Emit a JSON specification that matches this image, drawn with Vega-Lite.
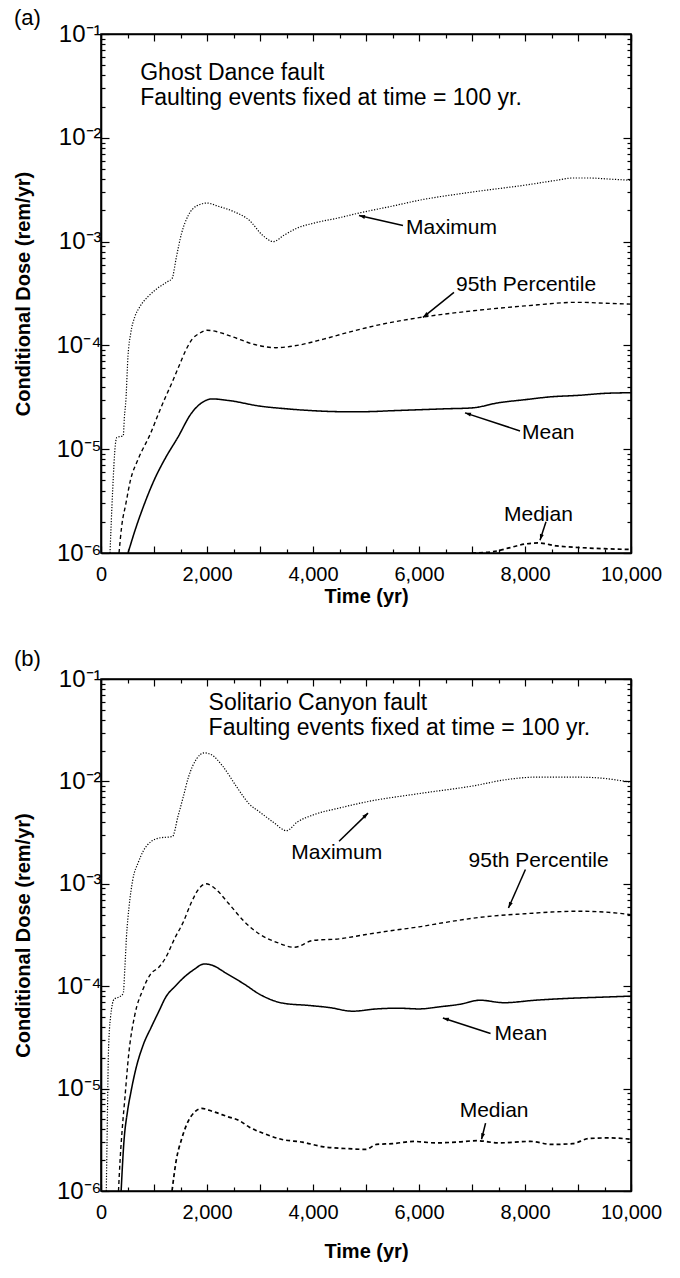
{
"$schema":"https://vega.github.io/schema/vega-lite/v6.json",
"background":"white",
"padding":{"left":13,"top":6,"right":8,"bottom":5},
"config":{
 "font":"Liberation Sans",
 "view":{"stroke":"black","strokeWidth":1.6},
 "axis":{"domainColor":"black","tickColor":"black","labelColor":"black","titleColor":"black","grid":false,"domainWidth":1.6,"tickWidth":1.2,"labelFont":"Liberation Sans","titleFont":"Liberation Sans","labelFontSize":20,"titleFontSize":20,"titleFontWeight":"bold"},
 "title":{"font":"Liberation Sans","fontSize":22,"fontWeight":"normal","anchor":"start","frame":"bounds","color":"black"},
 "text":{"font":"Liberation Sans","fontSize":21,"color":"black"},
 "concat":{"spacing":40}
},
"datasets":{
 "a":[
  {"s":"Maximum","t":170,"d":1e-6},{"s":"Maximum","t":220,"d":4e-6},{"s":"Maximum","t":270,"d":1.1e-5},{"s":"Maximum","t":300,"d":1.3e-5},{"s":"Maximum","t":420,"d":1.35e-5},{"s":"Maximum","t":440,"d":2e-5},{"s":"Maximum","t":470,"d":3e-5},{"s":"Maximum","t":510,"d":8e-5},{"s":"Maximum","t":560,"d":1.3e-4},{"s":"Maximum","t":640,"d":1.9e-4},{"s":"Maximum","t":720,"d":2.3e-4},{"s":"Maximum","t":900,"d":3e-4},{"s":"Maximum","t":1050,"d":3.5e-4},{"s":"Maximum","t":1250,"d":4.1e-4},{"s":"Maximum","t":1340,"d":4.4e-4},{"s":"Maximum","t":1420,"d":7e-4},{"s":"Maximum","t":1520,"d":1.2e-3},{"s":"Maximum","t":1650,"d":1.8e-3},{"s":"Maximum","t":1800,"d":2.2e-3},{"s":"Maximum","t":2000,"d":2.35e-3},{"s":"Maximum","t":2200,"d":2.2e-3},{"s":"Maximum","t":2500,"d":1.95e-3},{"s":"Maximum","t":2800,"d":1.6e-3},{"s":"Maximum","t":3050,"d":1.15e-3},{"s":"Maximum","t":3250,"d":1e-3},{"s":"Maximum","t":3450,"d":1.15e-3},{"s":"Maximum","t":3700,"d":1.35e-3},{"s":"Maximum","t":4000,"d":1.5e-3},{"s":"Maximum","t":4500,"d":1.7e-3},{"s":"Maximum","t":4900,"d":1.9e-3},{"s":"Maximum","t":5500,"d":2.2e-3},{"s":"Maximum","t":6000,"d":2.5e-3},{"s":"Maximum","t":7000,"d":3e-3},{"s":"Maximum","t":8000,"d":3.5e-3},{"s":"Maximum","t":8600,"d":3.9e-3},{"s":"Maximum","t":8900,"d":4.1e-3},{"s":"Maximum","t":9200,"d":4.1e-3},{"s":"Maximum","t":9600,"d":4e-3},{"s":"Maximum","t":10000,"d":3.9e-3},
  {"s":"95th","t":340,"d":1e-6},{"s":"95th","t":390,"d":1.8e-6},{"s":"95th","t":470,"d":3e-6},{"s":"95th","t":555,"d":5e-6},{"s":"95th","t":700,"d":8e-6},{"s":"95th","t":930,"d":1.4e-5},{"s":"95th","t":1100,"d":2.3e-5},{"s":"95th","t":1220,"d":3.2e-5},{"s":"95th","t":1350,"d":4.5e-5},{"s":"95th","t":1470,"d":6.3e-5},{"s":"95th","t":1600,"d":9e-5},{"s":"95th","t":1720,"d":1.15e-4},{"s":"95th","t":1850,"d":1.3e-4},{"s":"95th","t":2000,"d":1.4e-4},{"s":"95th","t":2200,"d":1.35e-4},{"s":"95th","t":2500,"d":1.2e-4},{"s":"95th","t":2900,"d":1.02e-4},{"s":"95th","t":3300,"d":9.5e-5},{"s":"95th","t":3700,"d":1e-4},{"s":"95th","t":4200,"d":1.15e-4},{"s":"95th","t":4700,"d":1.35e-4},{"s":"95th","t":5300,"d":1.6e-4},{"s":"95th","t":6000,"d":1.85e-4},{"s":"95th","t":7000,"d":2.15e-4},{"s":"95th","t":8000,"d":2.4e-4},{"s":"95th","t":9000,"d":2.6e-4},{"s":"95th","t":9500,"d":2.55e-4},{"s":"95th","t":10000,"d":2.5e-4},
  {"s":"Mean","t":510,"d":1e-6},{"s":"Mean","t":650,"d":1.7e-6},{"s":"Mean","t":800,"d":2.8e-6},{"s":"Mean","t":1000,"d":5e-6},{"s":"Mean","t":1220,"d":8.3e-6},{"s":"Mean","t":1450,"d":1.3e-5},{"s":"Mean","t":1700,"d":2.2e-5},{"s":"Mean","t":1900,"d":2.8e-5},{"s":"Mean","t":2100,"d":3.05e-5},{"s":"Mean","t":2400,"d":2.95e-5},{"s":"Mean","t":3000,"d":2.6e-5},{"s":"Mean","t":3500,"d":2.45e-5},{"s":"Mean","t":4000,"d":2.35e-5},{"s":"Mean","t":4500,"d":2.3e-5},{"s":"Mean","t":5000,"d":2.3e-5},{"s":"Mean","t":5500,"d":2.35e-5},{"s":"Mean","t":6000,"d":2.4e-5},{"s":"Mean","t":6500,"d":2.45e-5},{"s":"Mean","t":7000,"d":2.5e-5},{"s":"Mean","t":7500,"d":2.8e-5},{"s":"Mean","t":8000,"d":3e-5},{"s":"Mean","t":8500,"d":3.2e-5},{"s":"Mean","t":9000,"d":3.3e-5},{"s":"Mean","t":9500,"d":3.45e-5},{"s":"Mean","t":10000,"d":3.5e-5},
  {"s":"Median","t":7000,"d":1e-6},{"s":"Median","t":7400,"d":1.03e-6},{"s":"Median","t":7700,"d":1.12e-6},{"s":"Median","t":8000,"d":1.22e-6},{"s":"Median","t":8250,"d":1.25e-6},{"s":"Median","t":8600,"d":1.17e-6},{"s":"Median","t":9000,"d":1.13e-6},{"s":"Median","t":9500,"d":1.1e-6},{"s":"Median","t":10000,"d":1.08e-6}
 ],
 "b":[
  {"s":"Maximum","t":100,"d":1e-6},{"s":"Maximum","t":120,"d":5e-6},{"s":"Maximum","t":140,"d":2.2e-5},{"s":"Maximum","t":180,"d":5e-5},{"s":"Maximum","t":250,"d":7.5e-5},{"s":"Maximum","t":330,"d":7.8e-5},{"s":"Maximum","t":420,"d":8.5e-5},{"s":"Maximum","t":450,"d":1.5e-4},{"s":"Maximum","t":480,"d":3e-4},{"s":"Maximum","t":530,"d":6e-4},{"s":"Maximum","t":600,"d":1.1e-3},{"s":"Maximum","t":700,"d":1.6e-3},{"s":"Maximum","t":800,"d":2.1e-3},{"s":"Maximum","t":950,"d":2.6e-3},{"s":"Maximum","t":1100,"d":2.8e-3},{"s":"Maximum","t":1350,"d":2.9e-3},{"s":"Maximum","t":1450,"d":4.5e-3},{"s":"Maximum","t":1550,"d":7e-3},{"s":"Maximum","t":1650,"d":1.1e-2},{"s":"Maximum","t":1800,"d":1.65e-2},{"s":"Maximum","t":1950,"d":1.9e-2},{"s":"Maximum","t":2100,"d":1.8e-2},{"s":"Maximum","t":2300,"d":1.4e-2},{"s":"Maximum","t":2550,"d":9e-3},{"s":"Maximum","t":2800,"d":6e-3},{"s":"Maximum","t":3000,"d":5e-3},{"s":"Maximum","t":3250,"d":4e-3},{"s":"Maximum","t":3500,"d":3.3e-3},{"s":"Maximum","t":3700,"d":4e-3},{"s":"Maximum","t":4000,"d":4.7e-3},{"s":"Maximum","t":4500,"d":5.5e-3},{"s":"Maximum","t":5000,"d":6.3e-3},{"s":"Maximum","t":6000,"d":7.6e-3},{"s":"Maximum","t":7000,"d":9e-3},{"s":"Maximum","t":7700,"d":1.05e-2},{"s":"Maximum","t":8200,"d":1.1e-2},{"s":"Maximum","t":9000,"d":1.1e-2},{"s":"Maximum","t":9400,"d":1.08e-2},{"s":"Maximum","t":10000,"d":9.8e-3},
  {"s":"95th","t":330,"d":1e-6},{"s":"95th","t":360,"d":2e-6},{"s":"95th","t":400,"d":4e-6},{"s":"95th","t":450,"d":8e-6},{"s":"95th","t":520,"d":2.1e-5},{"s":"95th","t":640,"d":5.3e-5},{"s":"95th","t":780,"d":9e-5},{"s":"95th","t":930,"d":1.3e-4},{"s":"95th","t":1100,"d":1.55e-4},{"s":"95th","t":1220,"d":1.9e-4},{"s":"95th","t":1400,"d":3e-4},{"s":"95th","t":1550,"d":4.2e-4},{"s":"95th","t":1700,"d":6.5e-4},{"s":"95th","t":1850,"d":9e-4},{"s":"95th","t":1980,"d":1e-3},{"s":"95th","t":2150,"d":9e-4},{"s":"95th","t":2400,"d":6.5e-4},{"s":"95th","t":2700,"d":4.3e-4},{"s":"95th","t":3000,"d":3.2e-4},{"s":"95th","t":3300,"d":2.7e-4},{"s":"95th","t":3650,"d":2.4e-4},{"s":"95th","t":4000,"d":2.8e-4},{"s":"95th","t":4500,"d":2.9e-4},{"s":"95th","t":5000,"d":3.2e-4},{"s":"95th","t":5500,"d":3.5e-4},{"s":"95th","t":6000,"d":3.8e-4},{"s":"95th","t":6500,"d":4.2e-4},{"s":"95th","t":7000,"d":4.6e-4},{"s":"95th","t":7500,"d":4.9e-4},{"s":"95th","t":8000,"d":5.1e-4},{"s":"95th","t":8500,"d":5.3e-4},{"s":"95th","t":9000,"d":5.4e-4},{"s":"95th","t":9500,"d":5.3e-4},{"s":"95th","t":10000,"d":5e-4},
  {"s":"Mean","t":380,"d":1e-6},{"s":"Mean","t":430,"d":2.9e-6},{"s":"Mean","t":500,"d":6e-6},{"s":"Mean","t":560,"d":9e-6},{"s":"Mean","t":650,"d":1.5e-5},{"s":"Mean","t":800,"d":2.7e-5},{"s":"Mean","t":950,"d":4e-5},{"s":"Mean","t":1100,"d":5.8e-5},{"s":"Mean","t":1220,"d":7.8e-5},{"s":"Mean","t":1400,"d":1e-4},{"s":"Mean","t":1550,"d":1.2e-4},{"s":"Mean","t":1750,"d":1.45e-4},{"s":"Mean","t":1950,"d":1.65e-4},{"s":"Mean","t":2100,"d":1.6e-4},{"s":"Mean","t":2350,"d":1.35e-4},{"s":"Mean","t":2700,"d":1.05e-4},{"s":"Mean","t":3000,"d":8.3e-5},{"s":"Mean","t":3450,"d":6.8e-5},{"s":"Mean","t":3900,"d":6.5e-5},{"s":"Mean","t":4300,"d":6.2e-5},{"s":"Mean","t":4750,"d":5.7e-5},{"s":"Mean","t":5200,"d":6e-5},{"s":"Mean","t":5600,"d":6.1e-5},{"s":"Mean","t":6000,"d":6e-5},{"s":"Mean","t":6400,"d":6.3e-5},{"s":"Mean","t":6800,"d":6.7e-5},{"s":"Mean","t":7150,"d":7.3e-5},{"s":"Mean","t":7600,"d":6.9e-5},{"s":"Mean","t":8200,"d":7.3e-5},{"s":"Mean","t":8800,"d":7.6e-5},{"s":"Mean","t":9400,"d":7.8e-5},{"s":"Mean","t":10000,"d":8e-5},
  {"s":"Median","t":1340,"d":1e-6},{"s":"Median","t":1420,"d":2e-6},{"s":"Median","t":1520,"d":3.2e-6},{"s":"Median","t":1620,"d":4.5e-6},{"s":"Median","t":1780,"d":6e-6},{"s":"Median","t":1900,"d":6.4e-6},{"s":"Median","t":2100,"d":6e-6},{"s":"Median","t":2400,"d":5.3e-6},{"s":"Median","t":2600,"d":4.9e-6},{"s":"Median","t":2800,"d":4.2e-6},{"s":"Median","t":3100,"d":3.6e-6},{"s":"Median","t":3400,"d":3.2e-6},{"s":"Median","t":3800,"d":3e-6},{"s":"Median","t":4200,"d":2.7e-6},{"s":"Median","t":4600,"d":2.6e-6},{"s":"Median","t":5000,"d":2.55e-6},{"s":"Median","t":5200,"d":2.85e-6},{"s":"Median","t":5500,"d":2.9e-6},{"s":"Median","t":5900,"d":3.05e-6},{"s":"Median","t":6300,"d":2.95e-6},{"s":"Median","t":6700,"d":3e-6},{"s":"Median","t":7100,"d":3.1e-6},{"s":"Median","t":7500,"d":2.95e-6},{"s":"Median","t":8100,"d":3.05e-6},{"s":"Median","t":8500,"d":2.85e-6},{"s":"Median","t":8900,"d":2.9e-6},{"s":"Median","t":9200,"d":3.25e-6},{"s":"Median","t":9600,"d":3.3e-6},{"s":"Median","t":10000,"d":3.2e-6}
 ],
 "headA":[
  {"label":"Ghost Dance fault","t":740,"d":0.0422},
  {"label":"Faulting events fixed at time = 100 yr.","t":740,"d":0.0243}
 ],
 "txtA":[
  {"label":"Maximum","t":5755,"d":1.36e-3},
  {"label":"95th Percentile","t":6698,"d":3.8e-4},
  {"label":"Mean","t":7943,"d":1.43e-5},
  {"label":"Median","t":7604,"d":2.34e-6}
 ],
 "headB":[
  {"label":"Solitario Canyon fault","t":2030,"d":0.0584},
  {"label":"Faulting events fixed at time = 100 yr.","t":2030,"d":0.0331}
 ],
 "txtB":[
  {"label":"Maximum","t":3590,"d":2e-3},
  {"label":"95th Percentile","t":6936,"d":1.66e-3},
  {"label":"Mean","t":7425,"d":3.4e-5},
  {"label":"Median","t":6767,"d":6.1e-6}
 ],
 "arrA":[
  {"t":5698,"d":1.43e-3,"t2":4868,"d2":1.78e-3},
  {"t":6660,"d":3.24e-4,"t2":6075,"d2":1.86e-4},
  {"t":7906,"d":1.5e-5,"t2":6868,"d2":2.24e-5},
  {"t":8396,"d":2e-6,"t2":8283,"d2":1.33e-6}
 ],
 "arrB":[
  {"t":4492,"d":2.6e-3,"t2":5038,"d2":4.9e-3},
  {"t":8008,"d":1.38e-3,"t2":7688,"d2":5.8e-4},
  {"t":7350,"d":3.45e-5,"t2":6450,"d2":4.9e-5},
  {"t":7256,"d":4.6e-6,"t2":7180,"d2":3.2e-6}
 ]
},
"vconcat":[
 {
  "title":{"text":"(a)","offset":-8},
  "width":530,"height":519,
  "resolve":{"axis":{"x":"independent","y":"independent"}},
  "layer":[
   {"data":{"name":"a"},
    "mark":{"type":"line","interpolate":"monotone","clip":true,"color":"black"},
    "encoding":{
     "x":{"field":"t","type":"quantitative","scale":{"domain":[0,10000],"nice":false,"zero":false},
          "axis":{"orient":"bottom","values":[0,1000,2000,3000,4000,5000,6000,7000,8000,9000,10000],"tickSize":-7,"labelExpr":"datum.value % 2000 == 0 ? format(datum.value, ',') : ''","labelPadding":18,"title":"Time (yr)","titlePadding":2,"labelFlush":false}},
     "y":{"field":"d","type":"quantitative","scale":{"type":"log","domain":[1e-6,0.1],"nice":false},
          "axis":{"orient":"left","values":[1e-6,1e-5,1e-4,1e-3,1e-2,1e-1],"tickSize":-8,"labelFontSize":24,"labelPadding":8,"labelExpr":"datum.value > 0.05 ? '10⁻¹' : datum.value > 0.005 ? '10⁻²' : datum.value > 0.0005 ? '10⁻³' : datum.value > 0.00005 ? '10⁻⁴' : datum.value > 0.000005 ? '10⁻⁵' : '10⁻⁶'","title":"Conditional Dose (rem/yr)","titlePadding":22}},
     "detail":{"field":"s"},
     "strokeDash":{"field":"s","type":"nominal","scale":{"domain":["Maximum","95th","Mean","Median"],"range":[[1.2,1.6],[4,3],[1,0],[4,3]]},"legend":null},
     "strokeWidth":{"field":"s","type":"nominal","scale":{"domain":["Maximum","95th","Mean","Median"],"range":[1.2,1.7,2.8,1.7]},"legend":null}
    }},
   {"data":{"name":"a"},"mark":{"type":"point","opacity":0},
    "encoding":{
     "x":{"field":"t","type":"quantitative","scale":{"domain":[0,10000],"nice":false,"zero":false},"axis":{"orient":"bottom","values":[500,1500,2500,3500,4500,5500,6500,7500,8500,9500],"tickSize":-4,"labels":false,"domain":false,"title":null}},
     "y":{"field":"d","type":"quantitative","scale":{"type":"log","domain":[1e-6,0.1],"nice":false},"axis":{"orient":"left","values":[2e-6,3e-6,4e-6,5e-6,6e-6,7e-6,8e-6,9e-6,2e-5,3e-5,4e-5,5e-5,6e-5,7e-5,8e-5,9e-5,2e-4,3e-4,4e-4,5e-4,6e-4,7e-4,8e-4,9e-4,2e-3,3e-3,4e-3,5e-3,6e-3,7e-3,8e-3,9e-3,2e-2,3e-2,4e-2,5e-2,6e-2,7e-2,8e-2,9e-2],"tickSize":-4,"labels":false,"domain":false,"title":null}}
    }},
   {"data":{"name":"a"},"mark":{"type":"point","opacity":0},
    "encoding":{
     "x":{"field":"t","type":"quantitative","scale":{"domain":[0,10000],"nice":false,"zero":false},"axis":{"orient":"top","values":[0,1000,2000,3000,4000,5000,6000,7000,8000,9000,10000],"tickSize":-7,"labels":false,"title":null}},
     "y":{"field":"d","type":"quantitative","scale":{"type":"log","domain":[1e-6,0.1],"nice":false},"axis":{"orient":"right","values":[1e-6,1e-5,1e-4,1e-3,1e-2,1e-1],"tickSize":-8,"labels":false,"title":null}}
    }},
   {"data":{"name":"a"},"mark":{"type":"point","opacity":0},
    "encoding":{
     "x":{"field":"t","type":"quantitative","scale":{"domain":[0,10000],"nice":false,"zero":false},"axis":{"orient":"top","values":[500,1500,2500,3500,4500,5500,6500,7500,8500,9500],"tickSize":-4,"labels":false,"domain":false,"title":null}},
     "y":{"field":"d","type":"quantitative","scale":{"type":"log","domain":[1e-6,0.1],"nice":false},"axis":{"orient":"right","values":[2e-6,3e-6,4e-6,5e-6,6e-6,7e-6,8e-6,9e-6,2e-5,3e-5,4e-5,5e-5,6e-5,7e-5,8e-5,9e-5,2e-4,3e-4,4e-4,5e-4,6e-4,7e-4,8e-4,9e-4,2e-3,3e-3,4e-3,5e-3,6e-3,7e-3,8e-3,9e-3,2e-2,3e-2,4e-2,5e-2,6e-2,7e-2,8e-2,9e-2],"tickSize":-4,"labels":false,"domain":false,"title":null}}
    }},
   {"data":{"name":"headA"},"mark":{"type":"text","align":"left","baseline":"middle","fontSize":23},
    "encoding":{"x":{"field":"t","type":"quantitative","axis":null},"y":{"field":"d","type":"quantitative","axis":null},"text":{"field":"label"}}},
   {"data":{"name":"txtA"},"mark":{"type":"text","align":"left","baseline":"middle","fontSize":21},
    "encoding":{"x":{"field":"t","type":"quantitative","axis":null},"y":{"field":"d","type":"quantitative","axis":null},"text":{"field":"label"}}},
   {"data":{"name":"arrA"},"mark":{"type":"rule","color":"black","strokeWidth":1.5},
    "encoding":{"x":{"field":"t","type":"quantitative","axis":null},"y":{"field":"d","type":"quantitative","axis":null},"x2":{"field":"t2"},"y2":{"field":"d2"}}},
   {"data":{"values":[{"t":4868,"d":1.78e-3}]},"mark":{"type":"point","shape":"M0,0L-0.4,1.2L0.4,1.2Z","filled":true,"color":"black","opacity":1,"size":100,"angle":283},
    "encoding":{"x":{"field":"t","type":"quantitative","axis":null},"y":{"field":"d","type":"quantitative","axis":null}}},
   {"data":{"values":[{"t":6075,"d":1.86e-4}]},"mark":{"type":"point","shape":"M0,0L-0.4,1.2L0.4,1.2Z","filled":true,"color":"black","opacity":1,"size":100,"angle":231},
    "encoding":{"x":{"field":"t","type":"quantitative","axis":null},"y":{"field":"d","type":"quantitative","axis":null}}},
   {"data":{"values":[{"t":6868,"d":2.24e-5}]},"mark":{"type":"point","shape":"M0,0L-0.4,1.2L0.4,1.2Z","filled":true,"color":"black","opacity":1,"size":100,"angle":287},
    "encoding":{"x":{"field":"t","type":"quantitative","axis":null},"y":{"field":"d","type":"quantitative","axis":null}}},
   {"data":{"values":[{"t":8283,"d":1.33e-6}]},"mark":{"type":"point","shape":"M0,0L-0.4,1.2L0.4,1.2Z","filled":true,"color":"black","opacity":1,"size":100,"angle":198},
    "encoding":{"x":{"field":"t","type":"quantitative","axis":null},"y":{"field":"d","type":"quantitative","axis":null}}}
  ]
 },
 {
  "title":{"text":"(b)","offset":-4},
  "width":530,"height":512,
  "resolve":{"axis":{"x":"independent","y":"independent"}},
  "layer":[
   {"data":{"name":"b"},
    "mark":{"type":"line","interpolate":"monotone","clip":true,"color":"black"},
    "encoding":{
     "x":{"field":"t","type":"quantitative","scale":{"domain":[0,10000],"nice":false,"zero":false},
          "axis":{"orient":"bottom","values":[0,1000,2000,3000,4000,5000,6000,7000,8000,9000,10000],"tickSize":-7,"labelExpr":"datum.value % 2000 == 0 ? format(datum.value, ',') : ''","labelPadding":18,"title":"Time (yr)","titlePadding":19,"labelFlush":false}},
     "y":{"field":"d","type":"quantitative","scale":{"type":"log","domain":[1e-6,0.1],"nice":false},
          "axis":{"orient":"left","values":[1e-6,1e-5,1e-4,1e-3,1e-2,1e-1],"tickSize":-8,"labelFontSize":24,"labelPadding":8,"labelExpr":"datum.value > 0.05 ? '10⁻¹' : datum.value > 0.005 ? '10⁻²' : datum.value > 0.0005 ? '10⁻³' : datum.value > 0.00005 ? '10⁻⁴' : datum.value > 0.000005 ? '10⁻⁵' : '10⁻⁶'","title":"Conditional Dose (rem/yr)","titlePadding":22}},
     "detail":{"field":"s"},
     "strokeDash":{"field":"s","type":"nominal","scale":{"domain":["Maximum","95th","Mean","Median"],"range":[[1.2,1.6],[4,3],[1,0],[4,3]]},"legend":null},
     "strokeWidth":{"field":"s","type":"nominal","scale":{"domain":["Maximum","95th","Mean","Median"],"range":[1.2,1.7,2.8,1.7]},"legend":null}
    }},
   {"data":{"name":"b"},"mark":{"type":"point","opacity":0},
    "encoding":{
     "x":{"field":"t","type":"quantitative","scale":{"domain":[0,10000],"nice":false,"zero":false},"axis":{"orient":"bottom","values":[500,1500,2500,3500,4500,5500,6500,7500,8500,9500],"tickSize":-4,"labels":false,"domain":false,"title":null}},
     "y":{"field":"d","type":"quantitative","scale":{"type":"log","domain":[1e-6,0.1],"nice":false},"axis":{"orient":"left","values":[2e-6,3e-6,4e-6,5e-6,6e-6,7e-6,8e-6,9e-6,2e-5,3e-5,4e-5,5e-5,6e-5,7e-5,8e-5,9e-5,2e-4,3e-4,4e-4,5e-4,6e-4,7e-4,8e-4,9e-4,2e-3,3e-3,4e-3,5e-3,6e-3,7e-3,8e-3,9e-3,2e-2,3e-2,4e-2,5e-2,6e-2,7e-2,8e-2,9e-2],"tickSize":-4,"labels":false,"domain":false,"title":null}}
    }},
   {"data":{"name":"b"},"mark":{"type":"point","opacity":0},
    "encoding":{
     "x":{"field":"t","type":"quantitative","scale":{"domain":[0,10000],"nice":false,"zero":false},"axis":{"orient":"top","values":[0,1000,2000,3000,4000,5000,6000,7000,8000,9000,10000],"tickSize":-7,"labels":false,"title":null}},
     "y":{"field":"d","type":"quantitative","scale":{"type":"log","domain":[1e-6,0.1],"nice":false},"axis":{"orient":"right","values":[1e-6,1e-5,1e-4,1e-3,1e-2,1e-1],"tickSize":-8,"labels":false,"title":null}}
    }},
   {"data":{"name":"b"},"mark":{"type":"point","opacity":0},
    "encoding":{
     "x":{"field":"t","type":"quantitative","scale":{"domain":[0,10000],"nice":false,"zero":false},"axis":{"orient":"top","values":[500,1500,2500,3500,4500,5500,6500,7500,8500,9500],"tickSize":-4,"labels":false,"domain":false,"title":null}},
     "y":{"field":"d","type":"quantitative","scale":{"type":"log","domain":[1e-6,0.1],"nice":false},"axis":{"orient":"right","values":[2e-6,3e-6,4e-6,5e-6,6e-6,7e-6,8e-6,9e-6,2e-5,3e-5,4e-5,5e-5,6e-5,7e-5,8e-5,9e-5,2e-4,3e-4,4e-4,5e-4,6e-4,7e-4,8e-4,9e-4,2e-3,3e-3,4e-3,5e-3,6e-3,7e-3,8e-3,9e-3,2e-2,3e-2,4e-2,5e-2,6e-2,7e-2,8e-2,9e-2],"tickSize":-4,"labels":false,"domain":false,"title":null}}
    }},
   {"data":{"name":"headB"},"mark":{"type":"text","align":"left","baseline":"middle","fontSize":23},
    "encoding":{"x":{"field":"t","type":"quantitative","axis":null},"y":{"field":"d","type":"quantitative","axis":null},"text":{"field":"label"}}},
   {"data":{"name":"txtB"},"mark":{"type":"text","align":"left","baseline":"middle","fontSize":21},
    "encoding":{"x":{"field":"t","type":"quantitative","axis":null},"y":{"field":"d","type":"quantitative","axis":null},"text":{"field":"label"}}},
   {"data":{"name":"arrB"},"mark":{"type":"rule","color":"black","strokeWidth":1.5},
    "encoding":{"x":{"field":"t","type":"quantitative","axis":null},"y":{"field":"d","type":"quantitative","axis":null},"x2":{"field":"t2"},"y2":{"field":"d2"}}},
   {"data":{"values":[{"t":5038,"d":4.9e-3}]},"mark":{"type":"point","shape":"M0,0L-0.4,1.2L0.4,1.2Z","filled":true,"color":"black","opacity":1,"size":100,"angle":46},
    "encoding":{"x":{"field":"t","type":"quantitative","axis":null},"y":{"field":"d","type":"quantitative","axis":null}}},
   {"data":{"values":[{"t":7688,"d":5.8e-4}]},"mark":{"type":"point","shape":"M0,0L-0.4,1.2L0.4,1.2Z","filled":true,"color":"black","opacity":1,"size":100,"angle":204},
    "encoding":{"x":{"field":"t","type":"quantitative","axis":null},"y":{"field":"d","type":"quantitative","axis":null}}},
   {"data":{"values":[{"t":6450,"d":4.9e-5}]},"mark":{"type":"point","shape":"M0,0L-0.4,1.2L0.4,1.2Z","filled":true,"color":"black","opacity":1,"size":100,"angle":287},
    "encoding":{"x":{"field":"t","type":"quantitative","axis":null},"y":{"field":"d","type":"quantitative","axis":null}}},
   {"data":{"values":[{"t":7180,"d":3.2e-6}]},"mark":{"type":"point","shape":"M0,0L-0.4,1.2L0.4,1.2Z","filled":true,"color":"black","opacity":1,"size":100,"angle":195},
    "encoding":{"x":{"field":"t","type":"quantitative","axis":null},"y":{"field":"d","type":"quantitative","axis":null}}}
  ]
 }
]
}
